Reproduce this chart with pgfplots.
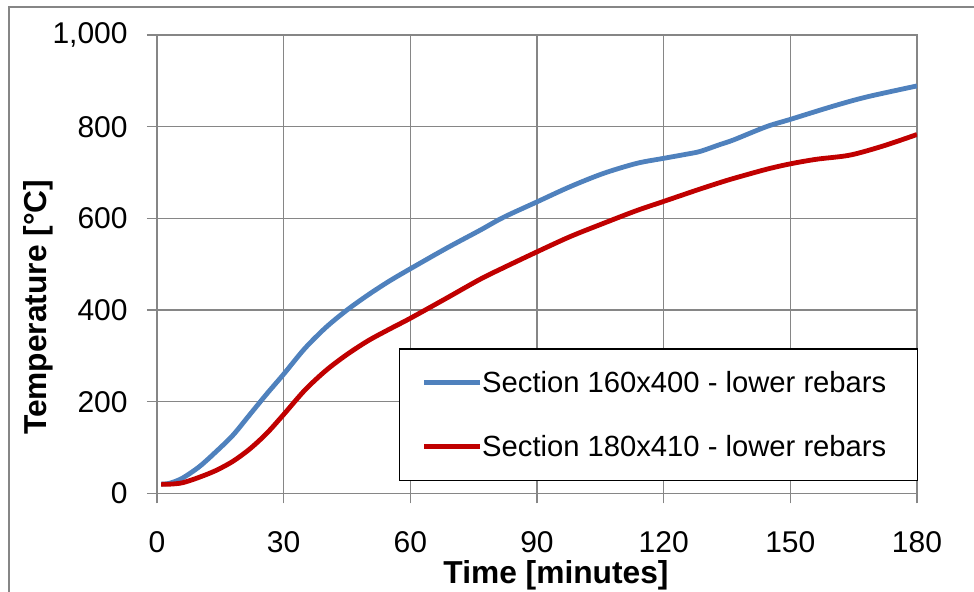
\documentclass[border=0pt]{standalone}
\usepackage{fontspec}
\setmainfont{Liberation Sans}
\usepackage{pgfplots}
\pgfplotsset{compat=1.18}
\definecolor{exblue}{HTML}{4F81BD}
\definecolor{exred}{HTML}{C00000}
\definecolor{exgrid}{HTML}{868686}
\begin{document}
\begin{tikzpicture}[font=\fontsize{22.5}{27}\selectfont]
\begin{axis}[
  at={(0,0)}, anchor=south west,
  scale only axis, width=570pt, height=343.7pt,
  xmin=0, xmax=180, ymin=0, ymax=1000,
  xtick={0,30,...,180}, ytick={0,200,...,1000},
  tick pos=left,
  grid=major, major grid style={exgrid, line width=1.1pt},
  axis line style={exgrid, line width=1.1pt},
  tick style={exgrid, line width=1.1pt},
  tick align=outside, major tick length=7.5pt,
  /pgf/number format/1000 sep={,},
  /pgf/number format/assume math mode=true,
  ticklabel style={font=\fontsize{22.5}{27}\selectfont, text=black},
  xticklabel style={yshift=-18pt},
  yticklabel style={xshift=-11pt},
  xlabel={Time [minutes]},
  ylabel={Temperature [°C]},
  label style={font=\fontsize{23.8}{28}\selectfont\bfseries},
  xlabel style={at={(axis description cs:0.525,0)}, anchor=base, yshift=-67.3pt},
  ylabel style={at={(axis description cs:-0.1566,0.406)}, anchor=center},
  legend style={at={(axis description cs:0.3184,0.317)}, anchor=north west,
    draw=black, line width=1.1pt, fill=white,
    inner xsep=16.5pt, inner ysep=14.8pt,
    row sep=26.4pt,
    font=\fontsize{21.9}{26}\selectfont,
    /tikz/every odd column/.append style={column sep=-2.25pt}},
  legend cell align=left,
  legend image code/.code={\draw[#1] (0pt,0pt) -- (42pt,0pt);},
]
\addplot[exblue, line width=3.6pt, smooth] coordinates {
(1,20) (3,22) (6,33) (10,58) (14,91) (18,127) (22,172) (26,217) (30,260)
(35,316) (40,362) (45,400) (50,433) (55,463) (60,490) (68.6,535) (76.5,574)
(82,602) (90,636) (97.8,669) (105.7,698) (113.6,720) (120,731) (125.4,740)
(128.6,746) (133.3,761) (136.5,771) (144.3,800) (150,816) (160.2,845)
(168.1,865) (180,889)};
\addlegendentry{\makebox[308pt][l]{Section 160x400 - lower rebars}}
\addplot[exred, line width=3.6pt, smooth] coordinates {
(1,20) (3,20) (6,23) (10,35) (14,50) (18,70) (22,97) (26,131) (30,172)
(35,225) (40,268) (45,303) (50,333) (55,358) (60,382) (68.6,426) (76.5,467)
(82,492) (90,527) (97.8,560) (105.7,589) (113.6,617) (120,637) (125.4,654)
(128.6,664) (133.3,678) (136.5,687) (144.3,707) (150,719) (156.2,729)
(164.1,738) (172,758) (180,783)};
\addlegendentry{\makebox[308pt][l]{Section 180x410 - lower rebars}}
\end{axis}
\draw[exgrid, line width=1.1pt] (-111pt,-90pt) -- (-111pt,364.7pt) -- (630pt,364.7pt);
\pgfresetboundingbox
\useasboundingbox (-117.75pt,-73.3pt) rectangle (612.75pt,370pt);
\end{tikzpicture}
\end{document}
